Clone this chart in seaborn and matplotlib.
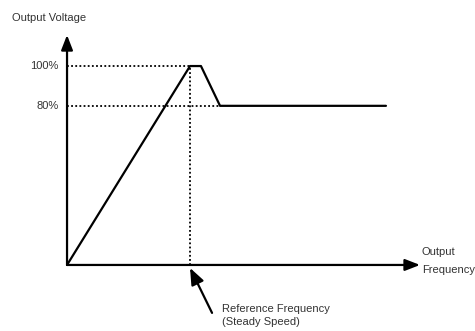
import matplotlib
matplotlib.use("Agg")
import matplotlib.pyplot as plt
import seaborn as sns
import pandas as pd

# data (frequency in units of reference frequency, voltage in %)
freq = [0.0, 1.0, 1.089, 1.244, 2.593]
voltage = [0.0, 100.0, 100.0, 80.0, 80.0]
levels = [100, 80]
level_labels = ["100%", "80%"]
ref_freq = 1.0

sns.set_style("white")
plt.rcParams['font.family'] = ['Liberation Sans', 'DejaVu Sans']

fig = plt.figure(figsize=(4.75, 3.31), dpi=100)
ax = fig.add_axes([0, 0, 1, 1])
ax.set_xlim(-0.545, 3.317)
ax.set_ylim(-33.2, 133.2)
ax.axis("off")

df = pd.DataFrame({"f": freq, "v": voltage})
sns.lineplot(data=df, x="f", y="v", ax=ax, color="black", lw=1.6, sort=False)

fs = 8
tc = "#333333"

# dotted reference lines
for lv, lab in zip(levels, level_labels):
    x_end = ref_freq if lv == 100 else 1.244
    ax.plot([0, x_end], [lv, lv], color="black", lw=1.3, ls=(0, (1, 1.3)))
    ax.text(-0.07, lv, lab, ha="right", va="center", fontsize=fs, color=tc)
ax.plot([ref_freq, ref_freq], [0, 100], color="black", lw=1.3, ls=(0, (1, 1.3)))

# axes arrows
ap = dict(arrowstyle="-|>,head_length=0.9,head_width=0.35", color="black", lw=1.6,
          shrinkA=0, shrinkB=0)
ax.annotate("", xy=(0, 115.6), xytext=(0, 0), arrowprops=ap)
ax.annotate("", xy=(2.87, 0), xytext=(0, 0), arrowprops=ap)

# labels
ax.text(-0.447, 124, "Output Voltage", ha="left", va="center", fontsize=fs, color=tc)
ax.text(2.886, 6.5, "Output", ha="left", va="center", fontsize=fs, color=tc)
ax.text(2.886, -2.5, "Frequency", ha="left", va="center", fontsize=fs, color=tc)

ap2 = dict(arrowstyle="-|>,head_length=1.0,head_width=0.4", color="black", lw=1.6,
           shrinkA=0, shrinkB=0)
ax.annotate("", xy=(ref_freq, -1.5), xytext=(1.179, -24.1), arrowprops=ap2)
ax.text(1.26, -22.0, "Reference Frequency", ha="left", va="center", fontsize=fs, color=tc)
ax.text(1.26, -28.6, "(Steady Speed)", ha="left", va="center", fontsize=fs, color=tc)

fig.savefig("out.png", dpi=100)
